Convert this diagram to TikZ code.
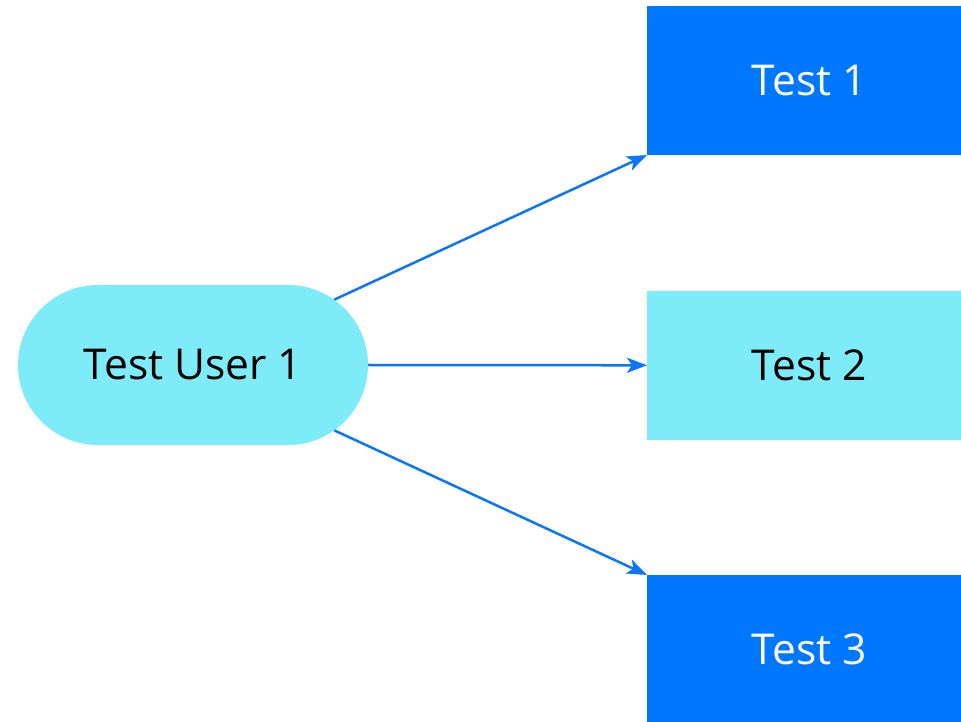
\documentclass[tikz,border=0pt]{standalone}
\usepackage{fontspec}
\setmainfont{Open Sans}
\usetikzlibrary{shapes.misc,arrows.meta}
\definecolor{lightcyan}{RGB}{125,235,248}
\definecolor{boxblue}{RGB}{0,119,255}
\definecolor{arrowblue}{RGB}{10,118,245}
\begin{document}
\begin{tikzpicture}[x=1pt,y=1pt,
  txt/.style={font=\fontsize{42.5}{50}\selectfont},
  userbox/.style={rounded rectangle, fill=lightcyan, minimum width=350pt, minimum height=160pt, inner sep=0pt, txt, text=black},
  darkbox/.style={rectangle, fill=boxblue, minimum width=324pt, minimum height=149pt, inner sep=0pt, txt, text=white},
  lightbox/.style={rectangle, fill=lightcyan, minimum width=324pt, minimum height=149pt, inner sep=0pt, txt, text=black},
  conn/.style={draw=arrowblue, line width=2.5pt, -{Stealth[length=20pt,width=15pt,inset=5pt]}}]
\useasboundingbox (0,0) rectangle (961,721);
\clip (0,0) rectangle (961,721);
\fill[white] (0,0) rectangle (961,721);
\node[userbox] (u) at (193,356) {Test User 1};
\node[darkbox, anchor=south west] (t1) at (647,566) {Test 1};
\node[lightbox, anchor=south west] (t2) at (647,281) {Test 2};
\node[darkbox, anchor=north west] (t3) at (647,146) {Test 3};
\draw[conn] (u) -- (t1.south west);
\draw[conn] (u.east) -- (t2.west);
\draw[conn] (u) -- (t3.north west);
\end{tikzpicture}
\end{document}
